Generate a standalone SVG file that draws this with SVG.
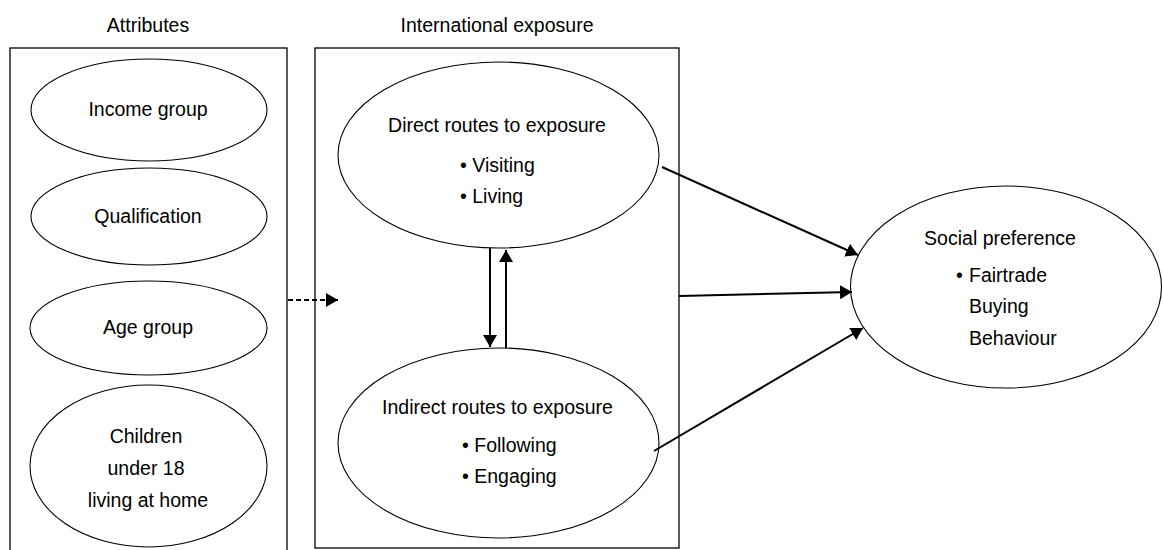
<svg xmlns="http://www.w3.org/2000/svg" width="1163" height="550" viewBox="0 0 1163 550">
<style>
text{font-family:"Liberation Sans",Arial,sans-serif;font-size:19.5px;fill:#000}
.c{text-anchor:middle}
.box{fill:none;stroke:#000;stroke-width:1.3}
.ell{fill:#fff;stroke:#000;stroke-width:1.1}
.arr{stroke:#000;stroke-width:2;fill:none;marker-end:url(#ah)}
.dash{stroke:#000;stroke-width:2;fill:none;stroke-dasharray:5,3;marker-end:url(#ah)}
</style>
<defs>
<marker id="ah" markerUnits="userSpaceOnUse" markerWidth="13" markerHeight="14" refX="12" refY="7" orient="auto">
<path d="M0,0 L12,7 L0,14 z" fill="#000"/>
</marker>
</defs>
<rect width="1163" height="550" fill="#fff"/>
<g id="attributes">
<text class="c" x="148" y="32">Attributes</text>
<rect class="box" x="10" y="48" width="277" height="506"/>
</g>
<g id="income"><ellipse class="ell" cx="149" cy="110" rx="118" ry="51"/><text class="c" x="148" y="116">Income group</text></g>
<g id="qualification"><ellipse class="ell" cx="149" cy="216.5" rx="118" ry="48.5"/><text class="c" x="148" y="223">Qualification</text></g>
<g id="age"><ellipse class="ell" cx="148.5" cy="328" rx="118.5" ry="47"/><text class="c" x="148" y="334">Age group</text></g>
<g id="children"><ellipse class="ell" cx="148.5" cy="466" rx="118.5" ry="81"/>
<text class="c" x="146" y="443">Children</text><text class="c" x="146" y="475">under 18</text><text class="c" x="148" y="507">living at home</text></g>
<g id="international">
<text class="c" x="497" y="32">International exposure</text>
<rect class="box" x="315" y="48" width="364" height="500"/>
</g>
<g id="direct"><ellipse class="ell" cx="498.5" cy="155" rx="160.5" ry="93"/>
<text class="c" x="497" y="132">Direct routes to exposure</text>
<text x="460" y="172">• Visiting</text><text x="460" y="203">• Living</text></g>
<g id="indirect"><ellipse class="ell" cx="498.5" cy="443" rx="160.5" ry="95"/>
<text class="c" x="497.5" y="414">Indirect routes to exposure</text>
<text x="462" y="452">• Following</text><text x="462" y="483">• Engaging</text></g>
<g id="social"><ellipse class="ell" cx="1006" cy="287" rx="155.5" ry="101"/>
<text class="c" x="1000" y="245">Social preference</text>
<text y="282"><tspan x="956">•</tspan><tspan x="969">Fairtrade</tspan></text>
<text x="969" y="313">Buying</text><text x="969" y="345">Behaviour</text></g>
<g id="connectors">
<line class="dash" x1="288" y1="300" x2="338" y2="300"/>
<line class="arr" x1="490" y1="248" x2="490" y2="347"/>
<line class="arr" x1="506" y1="348" x2="506" y2="250"/>
<line class="arr" x1="662" y1="167" x2="858" y2="255"/>
<line class="arr" x1="679" y1="296" x2="852" y2="292"/>
<line class="arr" x1="654" y1="451" x2="863" y2="328"/>
</g>
</svg>
